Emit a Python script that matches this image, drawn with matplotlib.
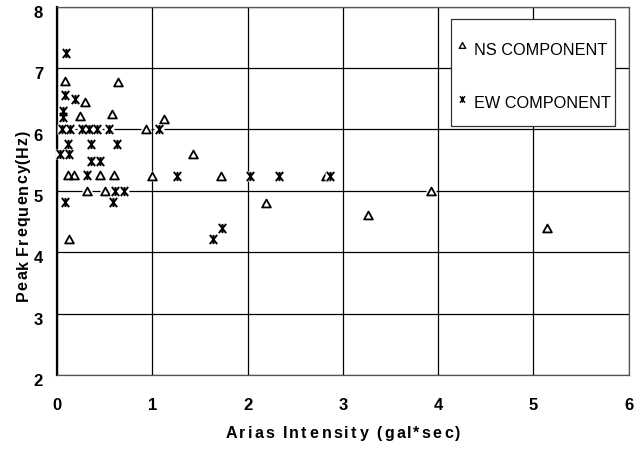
import matplotlib
matplotlib.use("Agg")
import matplotlib.pyplot as plt
from matplotlib.path import Path
from matplotlib.patches import Rectangle
from matplotlib.font_manager import FontProperties, findfont
from matplotlib.ft2font import FT2Font
import matplotlib.transforms as mtransforms

plt.rcParams["font.family"] = ["Liberation Sans", "DejaVu Sans"]

# Arias intensity (gal*sec) vs. peak frequency (Hz)
ns_arias = [0.08, 0.64, 0.24, 0.58, 0.93, 1.12, 1.43, 0.12, 0.18, 0.45,
            0.60, 1.00, 1.72, 2.82, 0.32, 0.50, 2.19, 3.93, 3.26, 5.14, 0.13, 0.29]
ns_freq = [6.78, 6.77, 6.22, 6.25, 6.00, 6.17, 5.60, 5.25, 5.25, 5.25,
           5.25, 5.24, 5.24, 5.24, 5.00, 5.00, 4.80, 5.00, 4.60, 4.40, 4.21, 6.45]

ew_arias = [0.09, 0.08, 0.19, 0.06, 0.06, 0.05, 0.14, 0.26, 0.34, 0.42,
            0.55, 1.07, 0.12, 0.36, 0.63, 0.03, 0.13, 0.36, 0.45, 0.31,
            1.26, 2.03, 2.33, 2.87, 0.61, 0.70, 0.08, 0.59, 1.735, 1.64]
ew_freq = [7.25, 6.56, 6.50, 6.30, 6.20, 6.00, 6.00, 6.00, 6.00, 6.00,
           6.00, 6.00, 5.76, 5.76, 5.76, 5.60, 5.60, 5.49, 5.49, 5.25,
           5.24, 5.24, 5.24, 5.24, 5.00, 5.00, 4.81, 4.81, 4.40, 4.21]

series_labels = ["NS COMPONENT", "EW COMPONENT"]
x_title = "Arias Intensity (gal*sec)"
y_title = "Peak Frequency(Hz)"
x_ticks = [0, 1, 2, 3, 4, 5, 6]
y_ticks = [2, 3, 4, 5, 6, 7, 8]

W, H, DPI = 639, 452, 100

# marker shapes: open triangle and a six-armed star (X with a vertical bar)
tri = Path([(0, 0.9), (-1, -0.9), (1, -0.9), (0, 0.9)],
           [Path.MOVETO, Path.LINETO, Path.LINETO, Path.CLOSEPOLY])
star = Path([(0, -1), (0, 1), (-0.8, -1), (0.8, 1), (-0.8, 1), (0.8, -1)],
            [Path.MOVETO, Path.LINETO, Path.MOVETO, Path.LINETO,
             Path.MOVETO, Path.LINETO])


def advances(fig, s, size, weight):
    """Horizontal advance of each character, in pixels."""
    prop = FontProperties(family="Liberation Sans", weight=weight, size=size)
    font = FT2Font(findfont(prop), hinting_factor=1)
    font.set_size(size, DPI)
    raw = [font.load_char(ord(ch)).horiAdvance / 64.0 for ch in s]
    # normalise against the width matplotlib itself lays out for the string
    renderer = fig.canvas.get_renderer()
    t = fig.text(0, 0, s, fontsize=size, fontweight=weight)
    width = t.get_window_extent(renderer).width
    t.remove()
    scale = width / sum(raw) if sum(raw) > 0 else 1.0
    return [a * scale for a in raw]


def spaced_text(fig, s, cx, cy, size, weight="bold", tracking=2.0, vertical=False):
    """Draw s letter-spaced, centred on pixel (cx, cy) measured from top-left."""
    adv = advances(fig, s, size, weight)
    total = sum(adv) + tracking * (len(s) - 1)
    cap = 0.716 * size * DPI / 72.0
    pos = -total / 2.0
    for ch, a in zip(s, adv):
        if vertical:
            x, y = cx + cap / 2.0, cy - pos
            rot = 90
        else:
            x, y = cx + pos, cy + cap / 2.0
            rot = 0
        fig.text(x / W, 1 - y / H, ch, fontsize=size, fontweight=weight,
                 rotation=rot, rotation_mode="anchor", ha="left", va="baseline")
        pos += a + tracking


fig = plt.figure(figsize=(W / DPI, H / DPI), dpi=DPI)
ax = fig.add_axes([0.0892, 0.1681, 0.8945, 0.8153])

ax.set_xlim(0, 6)
ax.set_ylim(2, 8)
ax.set_xticks(x_ticks)
ax.set_yticks(y_ticks)
ax.grid(True, color="black", linewidth=0.9)
ax.set_axisbelow(True)
ax.tick_params(length=0, labelsize=12)
ax.tick_params(axis="x", pad=15.5)
ax.tick_params(axis="y", pad=10)
for lab in ax.get_xticklabels() + ax.get_yticklabels():
    lab.set_fontweight("bold")
off = mtransforms.ScaledTranslation(0, -3 / 72, fig.dpi_scale_trans)
for lab in ax.get_yticklabels():
    lab.set_transform(lab.get_transform() + off)

for side in ["top", "right", "bottom"]:
    ax.spines[side].set_color("#555555")
    ax.spines[side].set_linewidth(0.9)
ax.spines["left"].set_linewidth(1.6)
ax.spines["left"].set_color("black")

# white backing squares behind each marker, then the marker itself
ax.plot(ns_arias, ns_freq, linestyle="none", marker="s", markersize=6.6,
        markerfacecolor="white", markeredgecolor="none", zorder=3, clip_on=False)
ax.plot(ns_arias, ns_freq, linestyle="none", marker=tri, markersize=6.3,
        markerfacecolor="none", markeredgecolor="black",
        markeredgewidth=1.3, zorder=4, clip_on=False)
ax.plot(ew_arias, ew_freq, linestyle="none", marker="s", markersize=6.8,
        markerfacecolor="white", markeredgecolor="none", zorder=5, clip_on=False)
ax.plot(ew_arias, ew_freq, linestyle="none", marker=star, markersize=6.6,
        markerfacecolor="none", markeredgecolor="black",
        markeredgewidth=1.4, zorder=6, clip_on=False)

# legend box with a small marker raised beside each label
ax.add_patch(Rectangle((0.6893, 0.6757), 0.2869, 0.2904, transform=ax.transAxes,
                       facecolor="white", edgecolor="#333333", linewidth=0.9,
                       zorder=10))
for (mk, ty, my, label) in [(tri, 0.8833, 0.8955, series_labels[0]),
                            (star, 0.7401, 0.7490, series_labels[1])]:
    ax.plot([0.7094], [my], transform=ax.transAxes, linestyle="none", marker=mk,
            markersize=4.6, markerfacecolor="none", markeredgecolor="black",
            markeredgewidth=1.0, zorder=11, clip_on=False)
    ax.text(0.7295, ty, label, transform=ax.transAxes, fontsize=11.7,
            ha="left", va="center", zorder=11)

# axis titles, letter-spaced
spaced_text(fig, x_title, 342.8, 432, 11.5, tracking=2.2)
spaced_text(fig, y_title, 22, 216, 11.5, tracking=1.0, vertical=True)

fig.savefig("out.png", dpi=DPI)
